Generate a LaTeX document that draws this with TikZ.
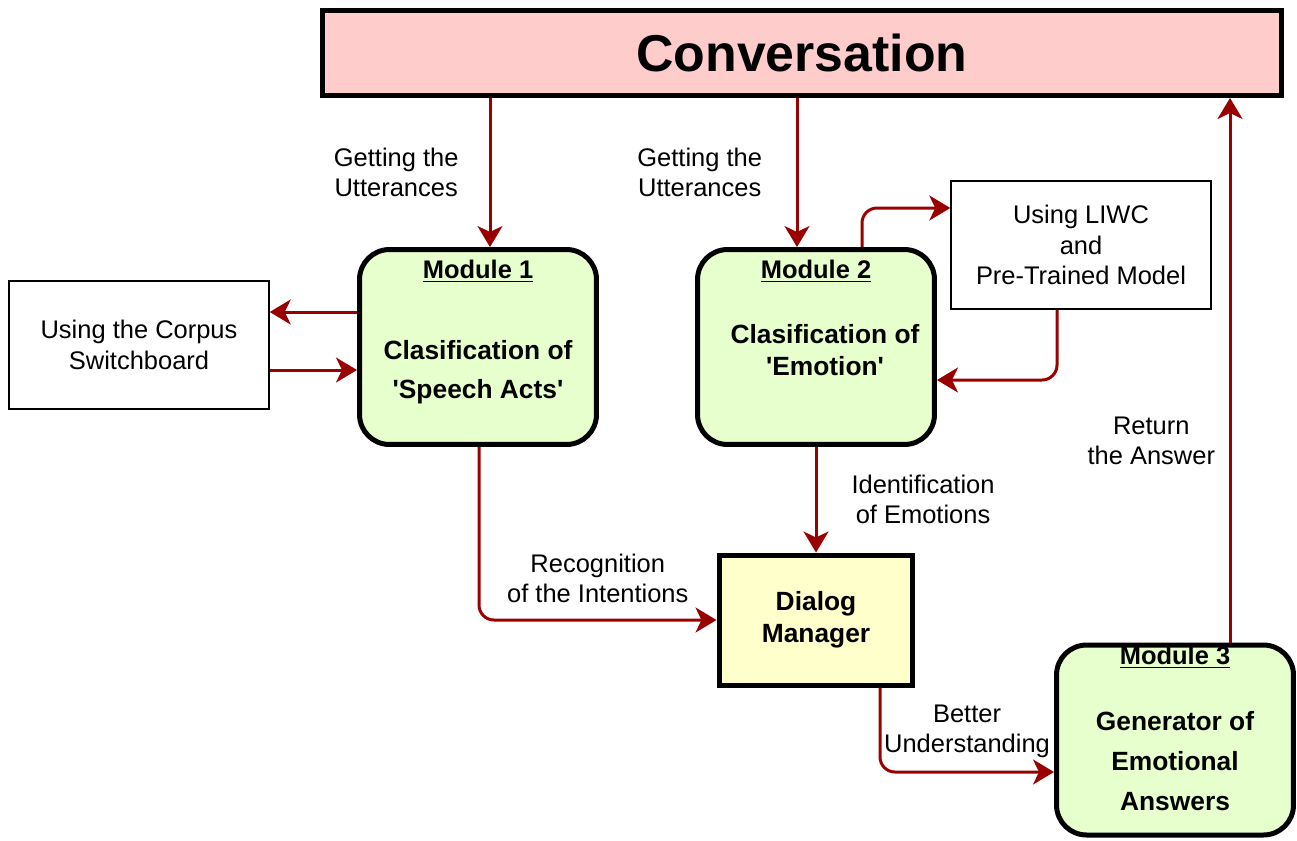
\documentclass[tikz,border=0pt]{standalone}
\usepackage{fontspec}
\setmainfont{Liberation Sans}
\usetikzlibrary{arrows.meta,positioning}
\definecolor{convpink}{HTML}{FFCCCC}
\definecolor{modgreen}{HTML}{E6FFCC}
\definecolor{dlgyellow}{HTML}{FFFFCC}
\definecolor{flowred}{HTML}{990000}

\begin{document}
\begin{tikzpicture}[x=0.02cm,y=-0.02cm,
  flow/.style={draw=flowred,line width=0.06cm,rounded corners=0.3cm,
    -{Stealth[length=0.42cm,width=0.5cm,inset=0.12cm]}},
  lbl/.style={font=\fontsize{14.5}{17}\selectfont,align=center,inner sep=0pt},
  module/.style={draw,line width=0.1cm,rounded corners=0.6cm,fill=modgreen,
    minimum width=4.74cm,minimum height=3.9cm},
  src/.style={draw,line width=0.03cm,fill=white,minimum width=5.2cm,
    minimum height=2.56cm,align=center,font=\fontsize{14.5}{17.5}\selectfont},
  modtitle/.style={font=\bfseries\fontsize{14.5}{17}\selectfont,inner sep=0pt},
  modtext/.style={font=\bfseries\fontsize{15}{18}\selectfont,align=center,inner sep=0pt}]

  \useasboundingbox (0,0) rectangle (1297,840);

  \node[draw,line width=0.1cm,fill=convpink,minimum width=19.18cm,minimum height=1.7cm,
    font=\bfseries\fontsize{29.5}{34}\selectfont] (conv) at (802,53) {Conversation};

  \node[src] (corpus) at (139,345) {Using the Corpus\\Switchboard};
  \node[src] (liwc) at (1081,245) {Using LIWC\\and\\Pre-Trained Model};

  \node[module] (m1) at (478,347) {};
  \node[modtitle] at ([yshift=-0.48cm]m1.north) {\underline{Module 1}};
  \node[modtext] at ([yshift=-0.5cm]m1.center) {Clasification of\\[4pt]\textquotesingle Speech Acts\textquotesingle};

  \node[module] (m2) at (816,347) {};
  \node[modtitle] at ([yshift=-0.48cm]m2.north) {\underline{Module 2}};
  \node[modtext] at ([xshift=0.18cm,yshift=-0.06cm]m2.center) {Clasification of\\\textquotesingle Emotion\textquotesingle};

  \node[draw,line width=0.1cm,fill=dlgyellow,minimum width=3.88cm,minimum height=2.6cm,
    align=center,font=\bfseries\fontsize{15}{18}\selectfont] (dm) at (816,620) {Dialog\\Manager};

  \node[module,minimum height=3.8cm] (m3) at (1175,740) {};
  \node[modtitle] at ([yshift=-0.3cm]m3.north) {\underline{Module 3}};
  \node[modtext] at ([yshift=-0.42cm]m3.center) {Generator of\\[4.7pt]Emotional\\[4.7pt]Answers};

  \draw[flow] (conv.south -| 490,0) -- (m1.north -| 490,0)
    node[lbl,midway,left=0.6cm] {Getting the\\Utterances};
  \draw[flow] (conv.south -| 797,0) -- (m2.north -| 797,0)
    node[lbl,midway,left=0.67cm] {Getting the\\Utterances};
  \draw[flow] (m1.west |- 0,312) -- (corpus.east |- 0,312);
  \draw[flow] (corpus.east |- 0,370) -- (m1.west |- 0,370);
  \draw[flow] (m2.north -| 862,0) |- (liwc.west |- 0,208);
  \draw[flow] (liwc.south -| 1057,0) |- (m2.east |- 0,380);
  \draw[flow] (m1.south -| 479,0) |- (dm.west)
    node[lbl,pos=0.75,above=0.32cm] {Recognition\\of the Intentions};
  \draw[flow] (m2.south) -- (dm.north)
    node[lbl,midway,right=0.68cm] {Identification\\of Emotions};
  \draw[flow] (dm.south -| 880,0) |- (m3.west |- 0,772)
    node[lbl,pos=0.75,above=0.25cm] {Better\\Understanding};
  \draw[flow] (m3.north -| 1230,0) -- (conv.south -| 1230,0)
    node[lbl,pos=0.37,left=0.27cm] {Return\\the Answer};
\end{tikzpicture}
\end{document}
